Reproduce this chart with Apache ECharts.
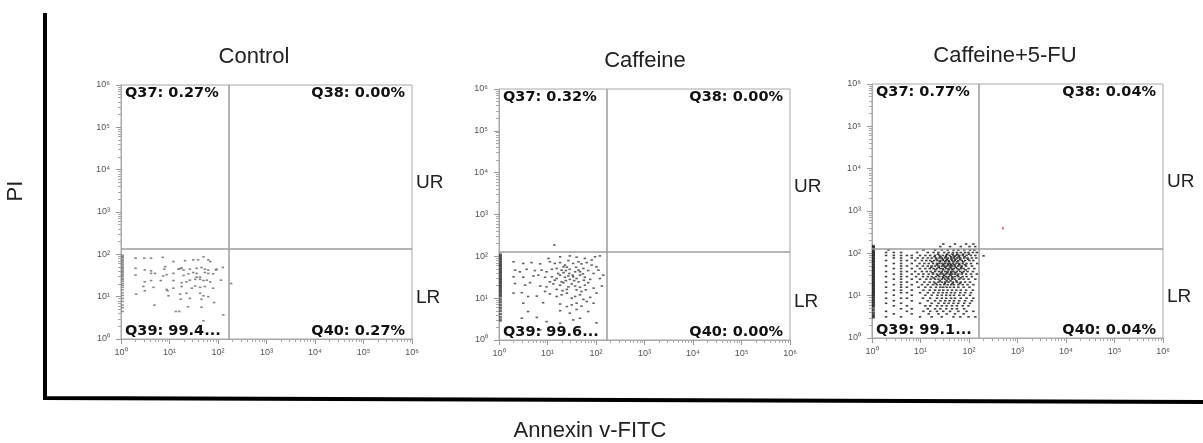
<!DOCTYPE html>
<html><head><meta charset="utf-8">
<script src="https://cdn.jsdelivr.net/npm/echarts@6/dist/echarts.min.js"></script>
<style>html,body{margin:0;padding:0;background:#fff}#c{width:1203px;height:443px}</style>
</head><body><div id="c"></div>
<script>
// ---------- text ----------
const panelTitles = ['Control', 'Caffeine', 'Caffeine+5-FU'];
const quadrantLabels = [
  ['Q37: 0.27%', 'Q38: 0.00%', 'Q39: 99.4...', 'Q40: 0.27%'],
  ['Q37: 0.32%', 'Q38: 0.00%', 'Q39: 99.6...', 'Q40: 0.00%'],
  ['Q37: 0.77%', 'Q38: 0.04%', 'Q39: 99.1...', 'Q40: 0.04%']
];
const sideLabels = ['UR', 'LR'];
const xAxisTitle = 'Annexin v-FITC';
const yAxisTitle = 'PI';
const decadeTicks = [1, 10, 100, 1000, 10000, 100000, 1000000];
const superDigits = ['\u2070', '\u00B9', '\u00B2', '\u00B3', '\u2074', '\u2075', '\u2076'];

// ---------- gates (quadrant thresholds) ----------
const gateX = [170, 166, 162];
const gateY = [132, 129, 126];

// ---------- events: [log10 Annexin, log10 PI] ----------
const controlEvents = [
[0.30,1.91],[0.48,1.91],[0.62,1.91],[0.86,1.93],[1.08,1.83],[1.32,1.85],[1.49,1.87],[1.59,1.87],[1.70,1.94],[1.80,1.87],[1.84,1.83],
[0.30,1.67],[0.49,1.63],[0.62,1.61],[0.91,1.71],[0.89,1.65],[1.18,1.65],[1.22,1.66],[1.25,1.68],[1.29,1.63],[1.42,1.65],[1.56,1.67],[1.66,1.69],[1.73,1.65],[1.80,1.63],[1.97,1.65],[2.10,1.69],
[0.30,1.51],[0.62,1.55],[0.70,1.55],[0.87,1.49],[0.94,1.52],[1.08,1.55],[1.29,1.50],[1.39,1.54],[1.49,1.57],[1.56,1.55],[1.63,1.46],[1.73,1.57],[1.80,1.55],[1.90,1.54],[1.96,1.63],
[0.49,1.35],[0.62,1.38],[0.82,1.38],[1.08,1.38],[1.25,1.33],[1.35,1.35],[1.42,1.39],[1.53,1.41],[1.56,1.46],[1.63,1.41],[1.70,1.38],[1.77,1.39],[1.84,1.35],[2.06,1.39],
[0.46,1.24],[0.67,1.22],[0.94,1.17],[1.08,1.20],[1.25,1.24],[1.46,1.20],[1.53,1.25],[1.63,1.22],[1.73,1.24],[1.90,1.20],
[0.31,1.06],[0.49,1.14],[0.96,1.14],[0.98,1.02],[1.22,1.06],[1.35,1.08],[1.63,1.08],[1.70,1.02],[1.80,1.00],
[1.23,0.94],[1.42,0.96],[1.66,0.94],[1.92,0.86],[0.69,0.80],[1.38,0.76],[1.66,0.75],
[1.13,0.65],[1.20,0.65],[2.11,0.57],[1.70,0.43],[2.27,1.31]
];
const caffeineEvents = [
[1.14,2.27],
[1.02,1.95],[1.26,1.99],[1.46,2.01],[1.60,1.98],[1.77,1.95],[1.91,1.91],[1.98,1.99],[2.08,2.01],
[0.30,1.87],[0.50,1.83],[0.67,1.85],[0.85,1.82],[1.05,1.87],[1.15,1.83],[1.26,1.85],[1.36,1.79],[1.43,1.90],[1.53,1.83],[1.64,1.87],[1.70,1.82],[1.81,1.85],[1.91,1.79],[2.01,1.75],
[0.33,1.67],[0.43,1.63],[0.57,1.69],[0.74,1.66],[0.88,1.67],[0.98,1.63],[1.09,1.69],[1.19,1.71],[1.29,1.67],[1.33,1.61],[1.40,1.74],[1.46,1.69],[1.57,1.63],[1.64,1.67],[1.74,1.71],[1.84,1.66],[1.95,1.59],[2.05,1.67],
[0.30,1.51],[0.50,1.50],[0.71,1.53],[0.81,1.55],[0.95,1.50],[1.09,1.51],[1.19,1.47],[1.26,1.55],[1.36,1.50],[1.43,1.53],[1.53,1.51],[1.60,1.47],[1.67,1.55],[1.77,1.50],[1.88,1.45],[2.08,1.47],[2.15,1.55],
[0.33,1.35],[0.54,1.31],[0.64,1.37],[0.85,1.29],[0.98,1.27],[1.12,1.34],[1.26,1.31],[1.33,1.37],[1.43,1.27],[1.50,1.34],[1.57,1.29],[1.67,1.26],[1.77,1.31],[1.84,1.37],[1.95,1.24],[2.12,1.29],
[0.30,1.12],[0.47,1.13],[0.60,1.04],[0.78,1.05],[0.95,1.16],[1.05,1.10],[1.19,1.04],[1.29,1.08],[1.40,1.12],[1.50,1.00],[1.57,1.04],[1.67,1.08],[1.74,0.97],[1.88,1.02],[2.01,1.12],
[0.50,0.88],[0.91,0.89],[1.26,0.86],[1.40,0.80],[1.50,0.84],[1.60,0.88],[1.70,0.81],[1.81,0.92],[1.95,0.88],
[0.60,0.68],[1.26,0.70],[1.46,0.64],[1.60,0.73],[1.84,0.68],
[0.47,0.52],[0.78,0.54],[0.98,0.44],[1.26,0.40],[1.53,0.48],[1.67,0.52],[2.01,0.41],
[0.85,0.24],
[1.33,1.75],[1.38,1.66],[1.45,1.59],[1.52,1.55],[1.59,1.74],[1.67,1.63],[1.73,1.58],[1.75,1.43],[1.64,1.39],[1.55,1.42],[1.46,1.45],[1.38,1.42],[1.29,1.39],[1.22,1.59],[1.15,1.43],[1.05,1.39],[1.60,1.20],[1.70,1.16],[1.79,1.20],[1.40,1.21],[1.31,1.18],[1.19,1.21]
];
// Caffeine+5-FU read row by row: [log10 PI, [log10 Annexin ...]]
const comboRows = [
[2.22,[1.47,1.71,1.94,2.09]],
[2.16,[1.41,1.61,1.83,2.01,2.13]],
[2.08,[0.34,1.06,1.30,1.44,1.56,1.68,1.78,1.90,2.02,2.11]],
[2.02,[0.29,0.45,0.60,0.93,1.15,1.27,1.37,1.49,1.58,1.67,1.75,1.83,1.92,1.99,2.08,2.16]],
[1.95,[0.29,0.45,0.60,0.72,0.82,0.99,1.10,1.20,1.30,1.39,1.46,1.53,1.60,1.68,1.74,1.80,1.87,1.95,2.04,2.13]],
[1.89,[0.45,0.60,0.82,0.94,1.05,1.15,1.23,1.32,1.39,1.44,1.51,1.56,1.63,1.69,1.76,1.82,1.90,1.97,2.06,2.15]],
[1.83,[0.29,0.60,0.72,0.89,1.03,1.12,1.20,1.28,1.35,1.41,1.47,1.53,1.58,1.65,1.71,1.78,1.85,1.92,2.01,2.09]],
[1.76,[0.45,0.60,0.82,0.98,1.08,1.17,1.26,1.34,1.39,1.45,1.50,1.56,1.61,1.67,1.74,1.80,1.87,1.95,2.04,2.17]],
[1.70,[0.29,0.60,0.72,0.93,1.05,1.15,1.23,1.30,1.37,1.44,1.49,1.54,1.60,1.65,1.71,1.78,1.85,1.94,2.06]],
[1.64,[0.45,0.60,0.82,0.99,1.10,1.19,1.27,1.34,1.41,1.46,1.53,1.58,1.64,1.69,1.76,1.83,1.89,1.99,2.11]],
[1.57,[0.29,0.60,0.72,0.89,1.03,1.13,1.21,1.30,1.38,1.44,1.51,1.56,1.63,1.68,1.75,1.82,1.89,1.97,2.08]],
[1.51,[0.45,0.60,0.82,0.96,1.06,1.17,1.26,1.34,1.41,1.47,1.53,1.60,1.65,1.71,1.78,1.85,1.94,2.04,2.16]],
[1.45,[0.29,0.60,0.72,0.91,1.05,1.15,1.23,1.32,1.39,1.46,1.52,1.58,1.65,1.71,1.78,1.87,1.95,2.06]],
[1.39,[0.45,0.60,0.82,0.99,1.12,1.21,1.30,1.37,1.44,1.51,1.58,1.65,1.71,1.80,1.89,1.99,2.13]],
[1.32,[0.29,0.60,0.72,0.93,1.08,1.19,1.28,1.37,1.44,1.51,1.58,1.67,1.75,1.83,1.92,2.02]],
[1.26,[0.45,0.60,0.82,1.03,1.15,1.26,1.34,1.41,1.49,1.56,1.63,1.69,1.78,1.87,1.97,2.09]],
[1.20,[0.29,0.60,0.72,0.96,1.10,1.21,1.32,1.41,1.47,1.54,1.61,1.69,1.78,1.89,2.01]],
[1.13,[0.45,0.60,0.82,1.06,1.19,1.30,1.39,1.47,1.56,1.65,1.74,1.83,1.94,2.08]],
[1.07,[0.29,0.60,0.72,0.99,1.15,1.27,1.37,1.46,1.54,1.63,1.71,1.82,1.92,2.04]],
[1.01,[0.45,0.82,1.10,1.23,1.35,1.44,1.53,1.61,1.69,1.80,1.89,2.02]],
[0.94,[0.29,0.60,0.72,1.05,1.20,1.34,1.44,1.53,1.63,1.71,1.83,1.95,2.09]],
[0.88,[0.45,0.82,1.15,1.30,1.41,1.51,1.60,1.69,1.80,1.92,2.06]],
[0.82,[0.29,0.60,0.99,1.23,1.37,1.49,1.58,1.68,1.78,1.90,2.02]],
[0.76,[0.45,0.72,1.10,1.20,1.34,1.44,1.54,1.65,1.75,1.87,1.99]],
[0.69,[0.60,0.82,1.15,1.30,1.41,1.53,1.65,1.75,1.90]],
[0.63,[0.29,0.72,1.06,1.20,1.34,1.47,1.61,1.78,1.95,2.09]],
[0.57,[0.45,0.82,1.17,1.37,1.54,1.71,1.89]],
[0.50,[0.29,0.60,0.99,1.23,1.44,1.68,1.82,1.99,2.13]],
[1.98,[1.36,1.55,1.66,1.76,1.88,2.00]],
[1.92,[1.29,1.41,1.52,1.63,1.70,1.79,1.91]],
[1.86,[1.33,1.46,1.55,1.64,1.72,1.82,1.98]],
[1.80,[1.24,1.40,1.51,1.59,1.68,1.76,1.88]],
[1.73,[1.34,1.47,1.57,1.63,1.70,1.80,1.92]],
[1.67,[1.22,1.38,1.51,1.62,1.73,1.84]],
[1.61,[1.31,1.47,1.58,1.66,1.79,1.93]],
[1.54,[1.25,1.43,1.55,1.63,1.72,1.86]],
[1.48,[1.36,1.49,1.62,1.76]],
[1.42,[1.27,1.47,1.56,1.66,1.83]],
[1.35,[1.40,1.54,1.62,1.74]],
[1.29,[1.31,1.50,1.66,1.81]],
[1.94,[2.30]]
];
const comboDoublePositive = [[2.70, 2.59]];

// events piled on the Annexin minimum: log10 PI values
const pileAnnexin = 1.07;
const controlPile = [1.98,1.95,1.93,1.89,1.86,1.84,1.80,1.77,1.75,1.71,1.68,1.66,1.62,1.59,1.57,1.53,1.50,1.47,1.43,1.40,1.36,1.31,1.27,1.22,1.16,1.09,1.03,0.96,0.89,0.80,0.74,0.65];
const caffeinePile = [2.04,2.01,1.97,1.94,1.90,1.87,1.83,1.80,1.77,1.73,1.70,1.66,1.63,1.60,1.56,1.53,1.49,1.46,1.43,1.39,1.36,1.32,1.29,1.26,1.22,1.18,1.15,1.11,1.07,1.04,0.97,0.91,0.84,0.77,0.70,0.62,0.54,0.47];
const comboPile = [2.17,2.14,2.10,2.07,2.03,2.00,1.96,1.93,1.89,1.86,1.82,1.79,1.75,1.72,1.68,1.65,1.61,1.58,1.54,1.51,1.47,1.44,1.40,1.37,1.33,1.30,1.26,1.23,1.19,1.16,1.12,1.09,1.05,1.02,0.98,0.94,0.90,0.86,0.82,0.78,0.74,0.67,0.60,0.54,0.49];

// ---------- layout ----------
const grids = [
  {left: 121, top: 85, width: 291, height: 254},
  {left: 499, top: 89, width: 291, height: 251},
  {left: 872, top: 84, width: 291, height: 254}
];
const titlePos = [[254, 57], [645, 61], [1005, 56]];
const pointColors = ['#666', '#3a3a3a', '#111'];
const pileColors = ['#777', '#444', '#222'];

const toVal = p => [Math.pow(10, p[0]), Math.pow(10, p[1])];
const comboEvents = [];
comboRows.forEach(r => r[1].forEach(x => comboEvents.push([x, r[0]])));
const eventSets = [controlEvents, caffeineEvents, comboEvents];
const pileSets = [controlPile, caffeinePile, comboPile];

const minorTicks = [];
for (let k = 0; k < 6; k++) for (let m = 2; m <= 9; m++) minorTicks.push(m * Math.pow(10, k));

const labelFmt = v => '10' + superDigits[Math.round(Math.log10(v))];
const gray = '#a8a8a8';

const xAxes = [], yAxes = [], series = [], graphics = [];
grids.forEach((g, i) => {
  xAxes.push({
    type: 'log', logBase: 10, gridIndex: i, min: 1, max: 1e6, position: 'bottom',
    axisLine: {show: true, lineStyle: {color: gray, width: 1}},
    axisTick: {show: true, length: 5, customValues: decadeTicks, lineStyle: {color: '#999'}},
    axisLabel: {customValues: decadeTicks, formatter: labelFmt, margin: 9, fontSize: 9, color: '#555', fontFamily: 'Liberation Sans'},
    splitLine: {show: false}
  });
  xAxes.push({
    type: 'log', logBase: 10, gridIndex: i, min: 1, max: 1e6, position: 'bottom', offset: 0,
    axisLine: {show: false},
    axisTick: {show: true, length: 3, customValues: minorTicks, lineStyle: {color: '#aaa'}},
    axisLabel: {show: false}, splitLine: {show: false}
  });
  yAxes.push({
    type: 'log', logBase: 10, gridIndex: i, min: 1, max: 1e6, position: 'left',
    axisLine: {show: true, lineStyle: {color: gray, width: 1}},
    axisTick: {show: true, length: 5, customValues: decadeTicks, lineStyle: {color: '#999'}},
    axisLabel: {customValues: decadeTicks, formatter: labelFmt, margin: 11, fontSize: 9, color: '#555', fontFamily: 'Liberation Sans'},
    splitLine: {show: false}
  });
  yAxes.push({
    type: 'log', logBase: 10, gridIndex: i, min: 1, max: 1e6, position: 'left', offset: 0,
    axisLine: {show: false},
    axisTick: {show: true, length: 3, customValues: minorTicks, lineStyle: {color: '#aaa'}},
    axisLabel: {show: false}, splitLine: {show: false}
  });
  series.push({
    type: 'scatter', xAxisIndex: 2 * i, yAxisIndex: 2 * i,
    data: eventSets[i].map(toVal), symbol: 'rect', symbolSize: [2.5, 1.6],
    itemStyle: {color: pointColors[i]}, silent: true,
    markLine: {
      silent: true, symbol: 'none', label: {show: false},
      lineStyle: {color: '#9c9c9c', width: 1.5, type: 'solid'},
      data: [{xAxis: gateX[i]}, {yAxis: gateY[i]}]
    }
  });
  series.push({
    type: 'scatter', xAxisIndex: 2 * i, yAxisIndex: 2 * i,
    data: pileSets[i].map(y => [pileAnnexin, Math.pow(10, y)]), symbol: 'rect', symbolSize: i === 0 ? [3, 1.5] : [3, 2.5],
    itemStyle: {color: pileColors[i]}, silent: true
  });
  const right = g.left + g.width, bottom = g.top + g.height;
  const qFont = 'bold 14.5px "DejaVu Sans"';
  graphics.push(
    {type: 'text', x: g.left + 4, y: g.top + 8, style: {text: quadrantLabels[i][0], font: qFont, fill: '#111', align: 'left', verticalAlign: 'middle'}},
    {type: 'text', x: right - 7, y: g.top + 8, style: {text: quadrantLabels[i][1], font: qFont, fill: '#111', align: 'right', verticalAlign: 'middle'}},
    {type: 'text', x: g.left + 4, y: bottom - 8, style: {text: quadrantLabels[i][2], font: qFont, fill: '#111', align: 'left', verticalAlign: 'middle'}},
    {type: 'text', x: right - 7, y: bottom - 8, style: {text: quadrantLabels[i][3], font: qFont, fill: '#111', align: 'right', verticalAlign: 'middle'}},
    {type: 'text', x: right + 4, y: g.top + 98, style: {text: sideLabels[0], font: '19px "Liberation Sans"', fill: '#222', align: 'left', verticalAlign: 'middle'}},
    {type: 'text', x: right + 4, y: g.top + 213, style: {text: sideLabels[1], font: '19px "Liberation Sans"', fill: '#222', align: 'left', verticalAlign: 'middle'}},
    {type: 'text', x: titlePos[i][0], y: titlePos[i][1], style: {text: panelTitles[i], font: '22px "Liberation Sans"', fill: '#222', align: 'center', verticalAlign: 'middle'}}
  );
});
series.push({
  type: 'scatter', xAxisIndex: 4, yAxisIndex: 4,
  data: comboDoublePositive.map(toVal), symbol: 'rect', symbolSize: 2,
  itemStyle: {color: '#e03030'}, silent: true
});

graphics.push(
  {type: 'polyline', shape: {points: [[45, 13], [45, 398], [1203, 402]]}, style: {stroke: '#000', lineWidth: 4, fill: null, lineJoin: 'miter'}},
  {type: 'text', x: 590, y: 431, style: {text: xAxisTitle, font: '22px "Liberation Sans"', fill: '#222', align: 'center', verticalAlign: 'middle'}},
  {type: 'text', x: 16, y: 191, rotation: Math.PI / 2, style: {text: yAxisTitle, font: '22px "Liberation Sans"', fill: '#222', align: 'center', verticalAlign: 'middle'}}
);

const chart = echarts.init(document.getElementById('c'), null, {renderer: 'canvas'});
chart.setOption({
  animation: false,
  backgroundColor: '#fff',
  grid: grids.map(g => Object.assign({show: true, borderColor: gray, borderWidth: 1, containLabel: false}, g)),
  xAxis: xAxes,
  yAxis: yAxes,
  series: series,
  graphic: {elements: graphics}
});
</script>
</body></html>
